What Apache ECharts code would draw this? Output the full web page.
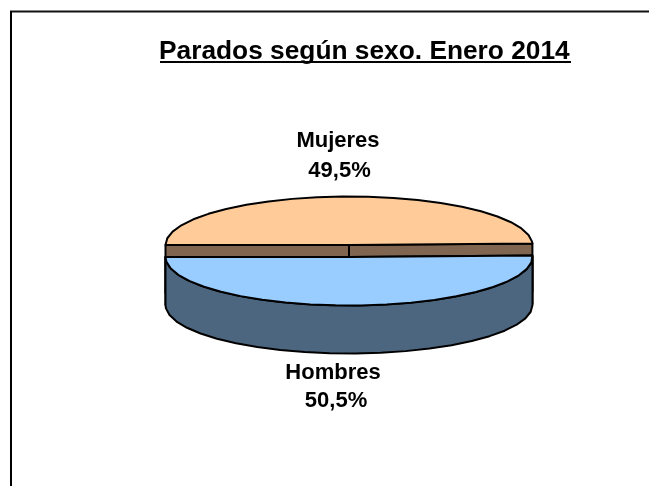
<!DOCTYPE html>
<html>
<head>
<meta charset="utf-8">
<script src="https://cdn.jsdelivr.net/npm/echarts@6/dist/echarts.min.js"></script>
<style>
  html, body { margin: 0; padding: 0; background: #fff; }
  #main { width: 649px; height: 486px; }
</style>
</head>
<body>
<div id="main"></div>
<script>
const chartTitle = 'Parados según sexo. Enero 2014'
const categories = ['Mujeres', 'Hombres']
const shares = [49.5, 50.5]
const topColors = ['#FFCC99', '#99CCFF']
const sideColors = ['#806650', '#4D6680']

// pie geometry, one centre per slice because the slices are pulled apart
const centerX = 349
const centerY = [245, 257]
const radiusX = 183.5
const radiusY = 48.5
const depth = 48
const startAngle = 180
const step = 8 // the arcs in the original are visibly faceted
const labelY = [[141, 171], [372.5, 401]]
const labelX = [[338, 339.5], [333, 336]]
const font = '"Liberation Sans", Arial, sans-serif'

const rad = (a) => a * Math.PI / 180
const point = (a, i, drop) => [
  centerX + radiusX * Math.cos(rad(a)),
  centerY[i] + radiusY * Math.sin(rad(a)) + drop
]

const arc = (from, to, i, drop) => {
  const pts = []
  for (let a = from; a < to; a += step) pts.push(point(a, i, drop))
  pts.push(point(to, i, drop))
  return pts
}

const renderSlice = (params, api) => {
  const i = params.dataIndex
  let from = startAngle
  for (let k = 0; k < i; k++) from += shares[k] * 3.6
  const to = from + api.value(1) * 3.6
  const stroke = { stroke: '#000', lineWidth: 2, lineJoin: 'round' }
  const center = [centerX, centerY[i]]
  const centerLow = [centerX, centerY[i] + depth]
  const side = { fill: sideColors[i], ...stroke }
  const face = (a) => ({
    type: 'polygon',
    shape: { points: [center, point(a, i, 0), point(a, i, depth), centerLow] },
    style: side
  })
  const children = [face(from), face(to)]

  // outer wall only where it faces the viewer
  const wallFrom = Math.max(from, 360)
  if (to > wallFrom) {
    children.push({
      type: 'polygon',
      shape: { points: arc(wallFrom, to, i, 0).concat(arc(wallFrom, to, i, depth).reverse()) },
      style: side
    })
  }

  const pct = api.value(1).toFixed(1).replace('.', ',') + '%'
  const text = (str, x, y) => ({
    type: 'text',
    style: {
      text: str, x, y,
      align: 'center', verticalAlign: 'middle',
      font: 'bold 22px ' + font, fill: '#000'
    }
  })
  children.push(
    { type: 'polygon', shape: { points: [center].concat(arc(from, to, i, 0)) }, style: { fill: topColors[i], ...stroke } },
    text(categories[i], labelX[i][0], labelY[i][0]),
    text(pct, labelX[i][1], labelY[i][1])
  )
  return { type: 'group', children }
}

const myChart = echarts.init(document.getElementById('main'), null, { renderer: 'canvas' })

myChart.setOption({
  animation: false,
  backgroundColor: '#fff',
  title: {
    text: chartTitle,
    left: 154,
    top: 34,
    textStyle: { fontFamily: font, fontSize: 26.3, fontWeight: 'bold', color: '#000' }
  },
  graphic: [
    { type: 'line', shape: { x1: 10, y1: 11.5, x2: 649, y2: 11.5 }, style: { stroke: '#111', lineWidth: 2 } },
    { type: 'line', shape: { x1: 11, y1: 11, x2: 11, y2: 486 }, style: { stroke: '#000', lineWidth: 2 } },
    { type: 'line', shape: { x1: 160, y1: 62, x2: 571, y2: 62 }, style: { stroke: '#000', lineWidth: 2 } }
  ],
  series: [
    {
      type: 'custom',
      coordinateSystem: 'none',
      silent: true,
      renderItem: renderSlice,
      data: categories.map((c, i) => [i, shares[i]])
    }
  ]
})
</script>
</body>
</html>
